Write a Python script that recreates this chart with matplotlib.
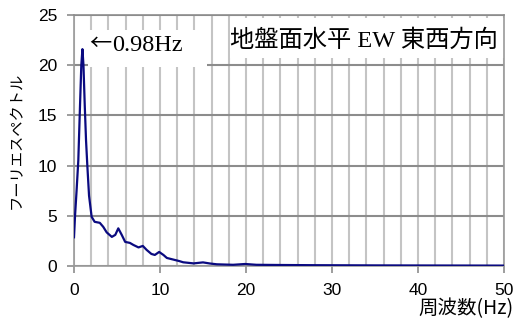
import matplotlib
matplotlib.use("Agg")
import matplotlib.pyplot as plt
from matplotlib.patches import Rectangle

plt.rcParams['font.family'] = ['Liberation Sans', 'Noto Sans CJK JP', 'DejaVu Sans']

# spectrum
freq = [0, 0.12, 0.3, 0.5, 0.7, 0.85, 0.98, 1.1, 1.25, 1.4, 1.55, 1.75, 2.05, 2.4,
        3.0, 3.4, 3.8, 4.4, 4.8, 5.15, 5.55, 5.95, 6.5, 6.9, 7.5, 8.0, 8.45, 9.0,
        9.4, 9.9, 10.4, 10.8, 11.5, 12.2, 12.7, 13.9, 15.0, 15.8, 16.6, 18.5,
        19.9, 21.2, 24, 28, 35, 42, 50]
amp = [2.86, 5.0, 7.5, 10.5, 16, 20, 21.6, 20, 16, 12.5, 10, 7, 4.9, 4.4,
       4.3, 3.9, 3.35, 2.9, 3.1, 3.75, 3.1, 2.4, 2.3, 2.1, 1.85, 2.0, 1.6, 1.2,
       1.1, 1.4, 1.1, 0.8, 0.65, 0.5, 0.37, 0.26, 0.36, 0.25, 0.17, 0.12,
       0.2, 0.12, 0.1, 0.08, 0.06, 0.05, 0.04]

x_ticks = [0, 10, 20, 30, 40, 50]
y_ticks = [0, 5, 10, 15, 20, 25]
peak_label = "0.98Hz"
title = "地盤面水平 EW 東西方向"

fig = plt.figure(figsize=(5.15, 3.2), dpi=100)
ax = fig.add_axes([74 / 515, 1 - 266 / 320, 430 / 515, 251 / 320])

ax.set_xlim(0, 50)
ax.set_ylim(0, 25)
ax.set_xticks(x_ticks)
ax.set_yticks(y_ticks)
ax.set_xticks(range(0, 51, 2), minor=True)

ax.grid(axis='x', which='both', color='#c4c4c4', linewidth=1.5)
ax.grid(axis='y', which='major', color='#8c8c8c', linewidth=1.5)
ax.tick_params(axis='both', which='major', length=5, width=1.2, color='#8c8c8c',
               labelsize=12.5, pad=7)
ax.tick_params(axis='x', which='minor', length=0)
for s in ax.spines.values():
    s.set_color('#9a9a9a')
    s.set_linewidth(1.2)
ax.spines['top'].set_color('#8c8c8c')

ax.plot(freq, amp, color='#0a0a80', linewidth=1.6, zorder=3)

# white label boxes over the grid
ax.add_patch(Rectangle((0.033, 0.793), 0.276, 0.147, transform=ax.transAxes,
                       facecolor='white', edgecolor='none', zorder=2))
ax.add_patch(Rectangle((0.363, 0.829), 0.637, 0.159, transform=ax.transAxes,
                       facecolor='white', edgecolor='none', zorder=2))
ax.text(0.036, 0.885, "←", transform=ax.transAxes, ha='left', va='center',
        fontsize=16, family=['Noto Sans CJK JP'], zorder=4)
ax.text(0.088, 0.878, peak_label, transform=ax.transAxes, ha='left', va='center',
        fontsize=17.5, family=['Liberation Serif'], zorder=4)
ax.text(0.362, 0.898, title, transform=ax.transAxes, ha='left', va='center',
        fontsize=17.5, family=['Liberation Serif', 'Noto Sans CJK JP'], zorder=4)

ax.set_ylabel("フーリエスペクトル", fontsize=11, family=['Noto Sans CJK JP'],
              labelpad=9)
fig.text(514 / 515, 1 - 309 / 320, "周波数(Hz)", ha='right', va='center',
         fontsize=14, family=['Noto Sans CJK JP'])

fig.savefig("out.png", dpi=100)
